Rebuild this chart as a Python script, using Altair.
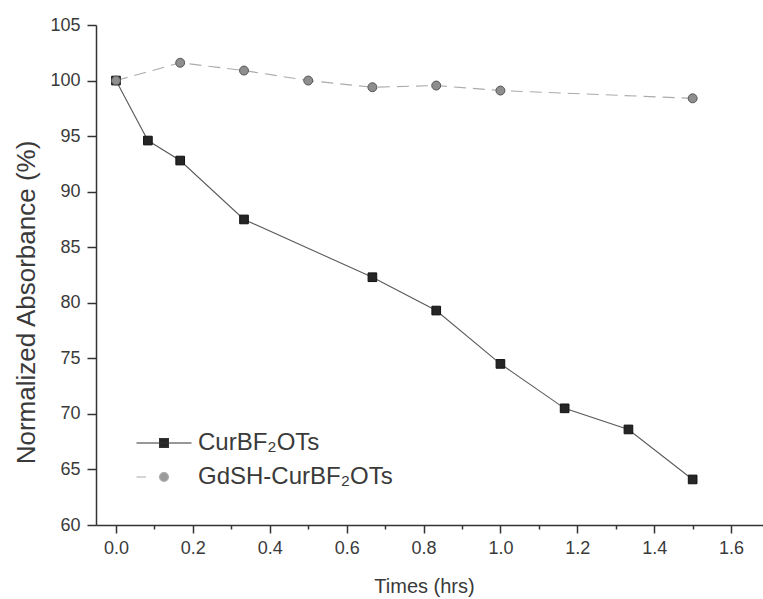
import altair as alt
import pandas as pd

# ---- data ----
series_names = ["CurBF₂OTs", "GdSH-CurBF₂OTs"]
times_cur = [0.0, 0.083, 0.167, 0.333, 0.667, 0.833, 1.0, 1.167, 1.333, 1.5]
abs_cur = [100.0, 94.6, 92.8, 87.5, 82.3, 79.3, 74.5, 70.5, 68.6, 64.1]
times_gd = [0.0, 0.167, 0.333, 0.5, 0.667, 0.833, 1.0, 1.5]
abs_gd = [100.0, 101.6, 100.9, 100.0, 99.4, 99.55, 99.1, 98.4]

x_ticks = [round(0.1 * i, 1) for i in range(0, 17)]
y_ticks = [60 + 2.5 * i for i in range(0, 19)]

df = pd.DataFrame(
    {
        "time": times_cur + times_gd,
        "absorbance": abs_cur + abs_gd,
        "series": [series_names[0]] * len(times_cur) + [series_names[1]] * len(times_gd),
    }
)

FONT = "Liberation Sans"
AXIS_COLOR = "#333333"
TEXT_COLOR = "#3a3a3a"

x_scale = alt.Scale(domain=[-0.052, 1.683], nice=False, zero=False)
y_scale = alt.Scale(domain=[60, 105], nice=False, zero=False)

x_axis = alt.Axis(
    title="Times (hrs)",
    values=x_ticks,
    labelExpr="round(datum.value*10) % 2 == 0 ? format(datum.value, '.1f') : ''",
    tickSize={"condition": {"test": "round(datum.value*10) % 2 == 0", "value": 8}, "value": 4},
    tickWidth=1.5,
    tickColor=AXIS_COLOR,
    domainColor=AXIS_COLOR,
    domainWidth=1.5,
    grid=False,
    labelFont=FONT,
    labelFontSize=18,
    labelColor=TEXT_COLOR,
    labelPadding=6,
    labelFlush=False,
    labelOverlap=False,
    titleFont=FONT,
    titleFontSize=20,
    titleFontWeight="normal",
    titleColor=TEXT_COLOR,
    titleX=328,
    titleY=67,
    titleBaseline="alphabetic",
    titleAlign="center",
)

y_axis = alt.Axis(
    title="Normalized Absorbance (%)",
    values=y_ticks,
    labelExpr="datum.value % 5 == 0 ? format(datum.value, 'd') : ''",
    tickSize={"condition": {"test": "datum.value % 5 == 0", "value": 9}, "value": 4},
    tickWidth=1.5,
    tickColor=AXIS_COLOR,
    domainColor=AXIS_COLOR,
    domainWidth=1.5,
    grid=False,
    labelFont=FONT,
    labelFontSize=18,
    labelColor=TEXT_COLOR,
    labelPadding=7,
    labelFlush=False,
    labelOverlap=False,
    titleFont=FONT,
    titleFontSize=26,
    titleFontWeight="normal",
    titleColor=TEXT_COLOR,
    titleAngle=-90,
    titleX=-62,
    titleY=277,
    titleBaseline="alphabetic",
    titleAlign="center",
)

base = alt.Chart(df)
cur = base.transform_filter(alt.datum.series == series_names[0])
gd = base.transform_filter(alt.datum.series == series_names[1])

line_gd = gd.mark_line(strokeWidth=1.1, color="#ababab", strokeDash=[12, 7]).encode(
    x=alt.X("time:Q", scale=x_scale, axis=x_axis),
    y=alt.Y("absorbance:Q", scale=y_scale, axis=y_axis),
)

line_cur = cur.mark_line(strokeWidth=1.1, color="#5a5a5a").encode(
    x="time:Q",
    y="absorbance:Q",
)

squares = cur.mark_square(size=75, color="#262626", stroke="#111111", strokeWidth=1, opacity=1).encode(
    x="time:Q", y="absorbance:Q"
)

circles = gd.mark_circle(size=80, color="#8e8e8e", stroke="#555555", strokeWidth=1, opacity=1).encode(
    x="time:Q", y="absorbance:Q"
)

# legend glyphs: a line through a square, and a short dash beside a circle
legend_paths = [
    "M-1.31,0H1.31M-0.21,-0.21H0.21V0.21H-0.21Z",
    "M-1.31,0H-0.86M0.21,0A0.21,0.21 0 1,1 -0.21,0A0.21,0.21 0 1,1 0.21,0Z",
]

legend_spec = alt.Legend(
    orient="none",
    legendX=46,
    legendY=396,
    title=None,
    labelFont=FONT,
    labelFontSize=24,
    labelColor=TEXT_COLOR,
    labelLimit=400,
    symbolSize=1764,
    symbolStrokeWidth=1.2,
    rowPadding=0,
    labelOffset=12,
    padding=0,
)

legend_layer = (
    base.transform_filter("false")
    .mark_point(filled=True, strokeWidth=1.2, opacity=1)
    .encode(
        x="time:Q",
        y="absorbance:Q",
        shape=alt.Shape("series:N", scale=alt.Scale(domain=series_names, range=legend_paths), legend=legend_spec),
        fill=alt.Fill("series:N", scale=alt.Scale(domain=series_names, range=["#262626", "#9a9a9a"]), legend=legend_spec),
        stroke=alt.Stroke("series:N", scale=alt.Scale(domain=series_names, range=["#333333", "#aaaaaa"]), legend=legend_spec),
    )
)

chart = (
    alt.layer(line_gd, line_cur, squares, circles, legend_layer)
    .properties(
        width=667,
        height=500,
        autosize=alt.AutoSizeParams(type="none"),
        padding={"left": 96, "top": 25, "right": 0, "bottom": 74},
        background="white",
    )
    .configure_view(stroke=None)
)

chart.save("out.html", embed_options={"renderer": "svg", "actions": False})
